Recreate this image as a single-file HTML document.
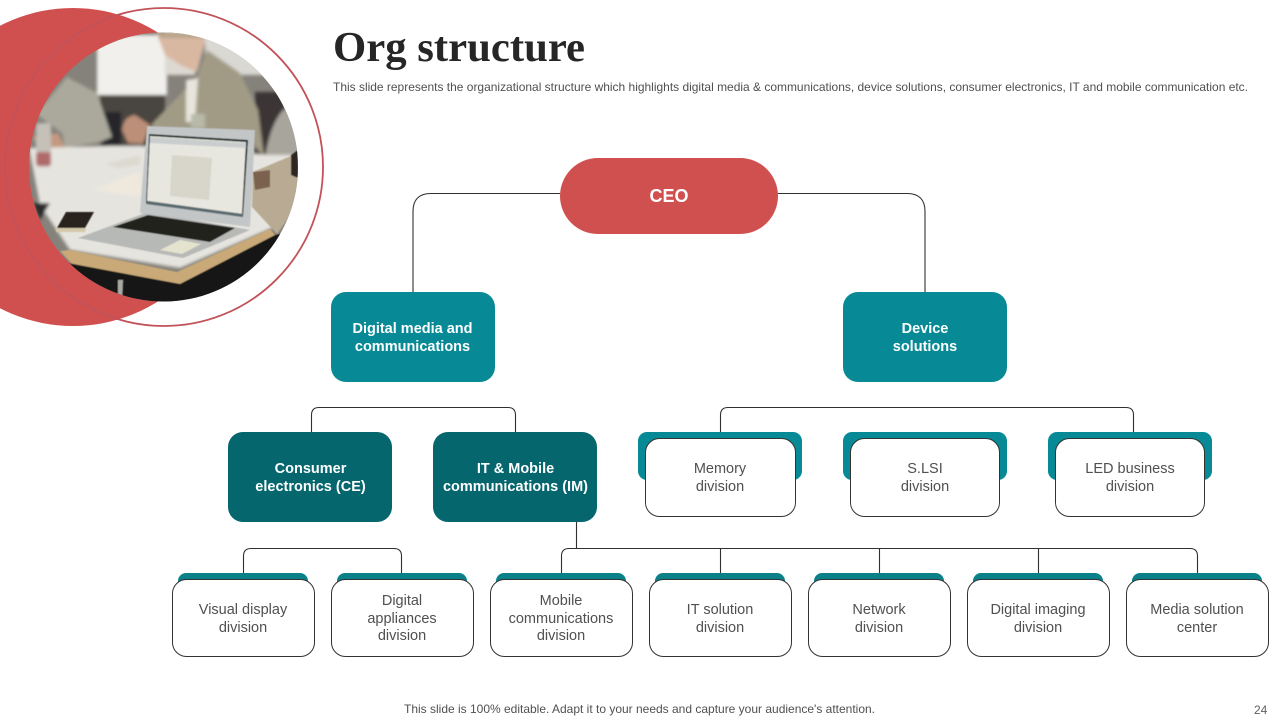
<!DOCTYPE html>
<html><head><meta charset="utf-8"><style>
html,body{margin:0;padding:0;background:#fff}
svg{display:block}
text{font-family:"Liberation Sans",sans-serif}
.w{fill:#fff;font-weight:bold;font-size:14.5px;text-anchor:middle}
.g{fill:#505050;font-size:14.5px;text-anchor:middle}
.c{fill:none;stroke:#303030;stroke-width:1.1}
.b{fill:#fff;stroke:#333;stroke-width:1}
</style></head><body>
<svg width="1280" height="720" viewBox="0 0 1280 720" xmlns="http://www.w3.org/2000/svg">
<defs>
<clipPath id="p"><circle cx="163.500" cy="167" r="134.500"/></clipPath>
<filter id="b1"><feGaussianBlur stdDeviation="1.6"/></filter>
<filter id="b2"><feGaussianBlur stdDeviation=".6"/></filter>
</defs>
<rect width="1280" height="720" fill="#fff"/>
<circle cx="73" cy="167" r="159" fill="#D05050"/>
<circle cx="164" cy="167" r="159" fill="none" stroke="#C25259" stroke-width="1.8"/>
<g clip-path="url(#p)">
<rect x="25" y="28" width="280" height="280" fill="#85827b"/>
<g filter="url(#b1)">
<rect x="97" y="35" width="70" height="60" fill="#f1f0ec"/>
<rect x="165" y="30" width="30" height="45" fill="#ddd9d2"/>
<rect x="205" y="30" width="60" height="45" fill="#d9d8d2"/>
<rect x="100" y="95" width="65" height="55" fill="#4a4440"/>
<rect x="103" y="112" width="18" height="36" fill="#26262a"/>
<rect x="255" y="92" width="30" height="65" fill="#3a3535"/>
<path d="M283 110L300 105V158H265Q270 125 283 110Z" fill="#a8a69c"/>
<path d="M153 123L197 77 207 50 240 73 258 110 264 157 245 135 150 128Z" fill="#a19b86"/>
<path d="M186 80L198 78 195 122 186 122Z" fill="#e8e5dc"/>
<rect x="191" y="114" width="14" height="14" fill="#b8b9a8"/>
<path d="M156 32H205V42L197 72 180 65 165 55Z" fill="#d9b8a2"/>
<path d="M156 32H205V38H160Z" fill="#b9a48a"/>
<path d="M122 130Q124 116 135 115L150 125 143 144 128 143Z" fill="#bb8f78"/>
<path d="M37 113L67 77 97 93 112 137 100 142 65 148 62 133 40 117Z" fill="#aaa99b"/>
<path d="M33 137L58 133 65 147 40 152Z" fill="#c39a80"/>
<path d="M29 148L110 146 140 146 270 155 300 155 272 228 180 268 70 250 40 205Z" fill="#e6e4df"/>
<path d="M105 164L140 155 140 165 118 168Z" fill="#dcd9cf"/>
<path d="M93 190L140 172 140 196Z" fill="#efe9dd"/>
<rect x="36" y="123" width="15" height="44" rx="3" fill="#c5c1b9"/>
<rect x="36" y="152" width="15" height="14" rx="3" fill="#b06a6b"/>
<path d="M33 203L50 203 40 220Z" fill="#2c2c2c"/>
</g>
<g filter="url(#b2)">
<path d="M60 251L70 250 177 272 270 229 275 235 180 284 72 264Z" fill="#c9a977"/>
<path d="M68 263L180 284 275 235 300 230 300 310 60 310Z" fill="#151414"/>
<path d="M118 280L123 280 122 300 118 300Z" fill="#a9a9a5"/>
<path d="M253 172L298 153 298 205 277 234 252 207Z" fill="#b9ab93"/>
<path d="M253 172L270 170 270 187 255 190Z" fill="#7a6250"/>
<path d="M291 155L298 150 298 178 291 175Z" fill="#2f2823"/>
<path d="M78 238L148 212 250 230 183 258Z" fill="#b7b9b7"/>
<path d="M113 227L148 215 235 228 210 242Z" fill="#20201f"/>
<path d="M160 250L180 240 201 244 182 254Z" fill="#e4e4ce"/>
<path d="M147 126L255 130 250 227 140 213Z" fill="#c3c6c6"/>
<path d="M149 134L248 140 243 217 146 203Z" fill="#1f2a2c"/>
<path d="M150 136L246 142 242 214 147 201Z" fill="#e7e6df"/>
<path d="M172 155L212 158 209 200 170 196Z" fill="#d8d6cb"/>
<path d="M150 137L246 143 246 148 150 143Z" fill="#c9cdcd"/>
<path d="M148 201L243 214 243 217 146 204Z" fill="#5a6a70"/>
<path d="M57 228L66 212 94 212 85 228Z" fill="#2b211d"/>
<path d="M56 228H86L85 232H56Z" fill="#d4c8aa"/>
</g>
</g>

<text x="333" y="61" style="font-family:'Liberation Serif',serif;font-weight:bold;font-size:42px" fill="#262626" textLength="252" lengthAdjust="spacingAndGlyphs">Org structure</text>
<text x="333" y="91" font-size="11.8" fill="#505050" textLength="915" lengthAdjust="spacingAndGlyphs">This slide represents the organizational structure which highlights digital media &amp; communications, device solutions, consumer electronics, IT and mobile communication etc.</text>

<path class="c" d="M560 193.500H431Q413 193.500 413 211.500V292"/>
<path class="c" d="M778 193.500H907Q925 193.500 925 211.500V292"/>
<path class="c" d="M311.500 432V415Q311.500 407.500 319 407.500H508Q515.500 407.500 515.500 415V432"/>
<path class="c" d="M720.500 432V415Q720.500 407.500 728 407.500H1126Q1133.500 407.500 1133.500 415V432"/>
<path class="c" d="M243.500 573V556Q243.500 548.500 251 548.500H394Q401.500 548.500 401.500 556V573"/>
<path class="c" d="M561.500 573V556Q561.500 548.500 569 548.500H1190Q1197.500 548.500 1197.500 556V573"/>
<path class="c" d="M576.500 522V548M720.500 548V573M879.500 548V573M1038.500 548V573"/>

<rect x="560" y="158" width="218" height="76" rx="38" fill="#D05050"/>
<text class="w" x="669" y="202" style="font-size:18px">CEO</text>

<rect x="331" y="292" width="164" height="90" rx="15" fill="#078A96"/>
<text class="w" x="412.500" y="333">Digital media and</text>
<text class="w" x="412.500" y="351">communications</text>
<rect x="843" y="292" width="164" height="90" rx="15" fill="#078A96"/>
<text class="w" x="925" y="333">Device</text>
<text class="w" x="925" y="351">solutions</text>

<rect x="228" y="432" width="164" height="90" rx="15" fill="#05666E"/>
<text class="w" x="310.500" y="473">Consumer</text>
<text class="w" x="310.500" y="491">electronics (CE)</text>
<rect x="433" y="432" width="164" height="90" rx="15" fill="#05666E"/>
<text class="w" x="515.500" y="473">IT &amp; Mobile</text>
<text class="w" x="515.500" y="491">communications (IM)</text>

<rect x="638" y="432" width="164" height="48" rx="9" fill="#078A96"/>
<rect class="b" x="645.500" y="438.500" width="150" height="78" rx="14"/>
<text class="g" x="720" y="473">Memory</text><text class="g" x="720" y="491">division</text>
<rect x="843" y="432" width="164" height="48" rx="9" fill="#078A96"/>
<rect class="b" x="850.500" y="438.500" width="149" height="78" rx="14"/>
<text class="g" x="925" y="473">S.LSI</text><text class="g" x="925" y="491">division</text>
<rect x="1048" y="432" width="164" height="48" rx="9" fill="#078A96"/>
<rect class="b" x="1055.500" y="438.500" width="149" height="78" rx="14"/>
<text class="g" x="1130" y="473">LED business</text><text class="g" x="1130" y="491">division</text>

<g fill="#0A8089">
<rect x="178" y="573" width="130" height="20" rx="8"/>
<rect x="337" y="573" width="130" height="20" rx="8"/>
<rect x="496" y="573" width="130" height="20" rx="8"/>
<rect x="655" y="573" width="130" height="20" rx="8"/>
<rect x="814" y="573" width="130" height="20" rx="8"/>
<rect x="973" y="573" width="130" height="20" rx="8"/>
<rect x="1132" y="573" width="130" height="20" rx="8"/>
</g>
<rect class="b" x="172.500" y="579.500" width="142" height="77" rx="14"/>
<rect class="b" x="331.500" y="579.500" width="142" height="77" rx="14"/>
<rect class="b" x="490.500" y="579.500" width="142" height="77" rx="14"/>
<rect class="b" x="649.500" y="579.500" width="142" height="77" rx="14"/>
<rect class="b" x="808.500" y="579.500" width="142" height="77" rx="14"/>
<rect class="b" x="967.500" y="579.500" width="142" height="77" rx="14"/>
<rect class="b" x="1126.500" y="579.500" width="142" height="77" rx="14"/>

<text class="g" x="243" y="614">Visual display</text><text class="g" x="243" y="632">division</text>
<text class="g" x="402" y="605">Digital</text><text class="g" x="402" y="623">appliances</text><text class="g" x="402" y="640">division</text>
<text class="g" x="561" y="605">Mobile</text><text class="g" x="561" y="623">communications</text><text class="g" x="561" y="640">division</text>
<text class="g" x="720" y="614">IT solution</text><text class="g" x="720" y="632">division</text>
<text class="g" x="879" y="614">Network</text><text class="g" x="879" y="632">division</text>
<text class="g" x="1038" y="614">Digital imaging</text><text class="g" x="1038" y="632">division</text>
<text class="g" x="1197" y="614">Media solution</text><text class="g" x="1197" y="632">center</text>

<text x="404" y="713" font-size="12" fill="#505050" textLength="471" lengthAdjust="spacingAndGlyphs">This slide is 100% editable. Adapt it to your needs and capture your audience's attention.</text>
<text x="1254" y="714" font-size="12" fill="#606060">24</text>
</svg>
</body></html>
